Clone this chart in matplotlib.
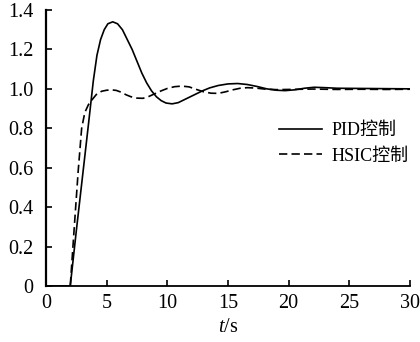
import matplotlib
matplotlib.use("Agg")
import matplotlib.pyplot as plt

## Data

# PID response
t_pid = [0, 2.0, 2.5, 3.0, 3.5, 3.9, 4.2, 4.5, 4.8, 5.1, 5.5, 5.9, 6.3, 6.7, 7.1,
         7.5, 7.9, 8.3, 8.7, 9.1, 9.5, 9.9, 10.4, 10.9, 11.4, 11.9, 12.4, 12.9,
         13.5, 14.2, 15.0, 15.8, 16.6, 17.4, 18.2, 19.0, 19.7, 20.5, 21.3, 22.1,
         23.0, 24.0, 26.0, 30.0]
y_pid = [0, 0, 0.28, 0.55, 0.82, 1.04, 1.17, 1.25, 1.30, 1.33, 1.34, 1.33, 1.30,
         1.25, 1.20, 1.14, 1.08, 1.03, 0.99, 0.96, 0.94, 0.928, 0.924, 0.93,
         0.945, 0.96, 0.975, 0.99, 1.005, 1.017, 1.025, 1.027, 1.022, 1.012,
         1.0, 0.993, 0.991, 0.995, 1.003, 1.008, 1.006, 1.003, 1.002, 1.0]

# HSIC response
t_hsic = [0, 2.0, 2.3, 2.65, 2.94, 3.2, 3.5, 3.8, 4.2, 4.6, 5.0, 5.4, 5.8, 6.2,
          6.6, 7.0, 7.5, 8.0, 8.5, 9.0, 9.5, 10.0, 10.6, 11.2, 11.8, 12.4, 13.0,
          13.6, 14.2, 14.8, 15.4, 16.0, 16.6, 17.3, 18.0, 19.0, 20.0, 22.0,
          24.0, 26.0, 28.0, 30.0]
y_hsic = [0, 0, 0.27, 0.58, 0.80, 0.88, 0.92, 0.945, 0.975, 0.988, 0.993, 0.995,
          0.992, 0.983, 0.97, 0.96, 0.953, 0.952, 0.962, 0.976, 0.99, 1.002,
          1.011, 1.014, 1.01, 0.997, 0.985, 0.978, 0.977, 0.985, 0.995, 1.003,
          1.006, 1.004, 0.999, 0.996, 0.997, 0.999, 0.997, 0.998, 0.997, 0.998]

x_ticks = [0, 5, 10, 15, 20, 25, 30]
y_ticks = [0, 0.2, 0.4, 0.6, 0.8, 1.0, 1.2, 1.4]
y_ticklabels = ['0', '0.2', '0.4', '0.6', '0.8', '1.0', '1.2', '1.4']
labels = ['PID控制', 'HSIC控制']

## Plot

fonts = ['Liberation Serif', 'Noto Sans CJK SC']
plt.rcParams['font.family'] = fonts
plt.rcParams['mathtext.fontset'] = 'custom'
plt.rcParams['mathtext.it'] = 'Liberation Serif:italic'
plt.rcParams['mathtext.rm'] = 'Liberation Serif'

fig = plt.figure(figsize=(4.2, 3.42), dpi=100)
ax = fig.add_axes([0.1095, 0.1637, 0.8665, 0.8071])

ax.plot(t_pid, y_pid, color='black', linewidth=1.2, label=labels[0])
ax.plot(t_hsic, y_hsic, color='black', linewidth=1.2, linestyle=(0, (5, 2.5)),
        label=labels[1])

ax.set_xlim(0, 30)
ax.set_ylim(0, 1.4)
ax.set_xticks(x_ticks)
ax.set_yticks(y_ticks)
ax.set_yticklabels(y_ticklabels)

# Only left and bottom axes, ticks pointing inward
ax.spines['top'].set_visible(False)
ax.spines['right'].set_visible(False)
ax.spines['left'].set_linewidth(1.6)
ax.spines['bottom'].set_linewidth(1.3)
ax.tick_params(direction='in', length=4, width=1.2, labelsize=14.5)
ax.tick_params(axis='y', pad=9)
ax.tick_params(axis='x', pad=6)

ax.set_xlabel(r'$\mathit{t}$/s', fontsize=14.5, labelpad=3)

ax.legend(loc='upper left', bbox_to_anchor=(0.595, 0.653), frameon=False,
          fontsize=13, handlelength=2.4, handletextpad=0.5, labelspacing=0.48)

fig.savefig('out.png', dpi=100)
